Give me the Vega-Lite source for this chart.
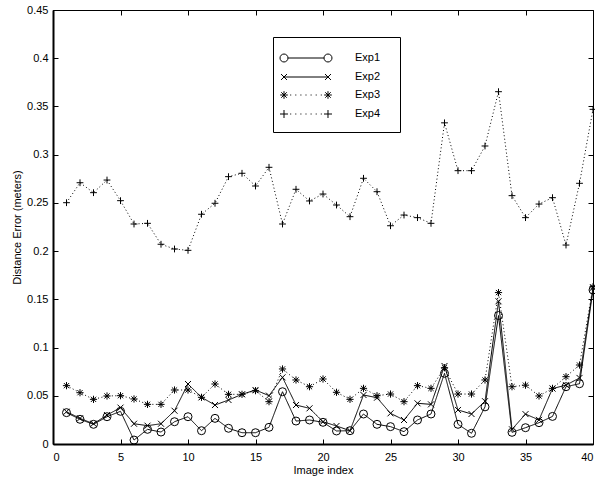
{
"$schema": "https://vega.github.io/schema/vega-lite/v6.json",
"width": 540, "height": 434,
"autosize": {"type": "none"},
"padding": {"left": 53, "top": 10, "right": 2, "bottom": 33},
"background": "white",
"config": {
  "view": {"stroke": "black", "strokeWidth": 1},
  "font": "Liberation Sans",
  "axis": {"domain": false, "grid": false, "tickColor": "black", "tickSize": -5, "tickWidth": 1,
           "labelFont": "Liberation Sans", "labelFontSize": 11, "labelColor": "black",
           "titleFont": "Liberation Sans", "titleFontSize": 11, "titleFontWeight": "normal", "titleColor": "black"}
},
"data": {"values": [
{"i":1,"s":"Exp1","v":0.0325},{"i":2,"s":"Exp1","v":0.0256},{"i":3,"s":"Exp1","v":0.0204},{"i":4,"s":"Exp1","v":0.0283},{"i":5,"s":"Exp1","v":0.0339},{"i":6,"s":"Exp1","v":0.0041},{"i":7,"s":"Exp1","v":0.0152},{"i":8,"s":"Exp1","v":0.0124},{"i":9,"s":"Exp1","v":0.0231},{"i":10,"s":"Exp1","v":0.0283},
{"i":11,"s":"Exp1","v":0.0138},{"i":12,"s":"Exp1","v":0.0266},{"i":13,"s":"Exp1","v":0.0163},{"i":14,"s":"Exp1","v":0.0117},{"i":15,"s":"Exp1","v":0.0117},{"i":16,"s":"Exp1","v":0.0173},{"i":17,"s":"Exp1","v":0.0542},{"i":18,"s":"Exp1","v":0.0238},{"i":19,"s":"Exp1","v":0.0249},{"i":20,"s":"Exp1","v":0.0225},
{"i":21,"s":"Exp1","v":0.0135},{"i":22,"s":"Exp1","v":0.0138},{"i":23,"s":"Exp1","v":0.0311},{"i":24,"s":"Exp1","v":0.0204},{"i":25,"s":"Exp1","v":0.018},{"i":26,"s":"Exp1","v":0.0128},{"i":27,"s":"Exp1","v":0.0249},{"i":28,"s":"Exp1","v":0.0311},{"i":29,"s":"Exp1","v":0.0733},{"i":30,"s":"Exp1","v":0.0204},
{"i":31,"s":"Exp1","v":0.0111},{"i":32,"s":"Exp1","v":0.0385},{"i":33,"s":"Exp1","v":0.1332},{"i":34,"s":"Exp1","v":0.0121},{"i":35,"s":"Exp1","v":0.0169},{"i":36,"s":"Exp1","v":0.0221},{"i":37,"s":"Exp1","v":0.0286},{"i":38,"s":"Exp1","v":0.0594},{"i":39,"s":"Exp1","v":0.0625},{"i":40,"s":"Exp1","v":0.1597},
{"i":1,"s":"Exp2","v":0.0335},{"i":2,"s":"Exp2","v":0.0266},{"i":3,"s":"Exp2","v":0.021},{"i":4,"s":"Exp2","v":0.030},{"i":5,"s":"Exp2","v":0.0377},{"i":6,"s":"Exp2","v":0.021},{"i":7,"s":"Exp2","v":0.019},{"i":8,"s":"Exp2","v":0.021},{"i":9,"s":"Exp2","v":0.0345},{"i":10,"s":"Exp2","v":0.0622},
{"i":11,"s":"Exp2","v":0.0484},{"i":12,"s":"Exp2","v":0.0404},{"i":13,"s":"Exp2","v":0.0456},{"i":14,"s":"Exp2","v":0.0515},{"i":15,"s":"Exp2","v":0.056},{"i":16,"s":"Exp2","v":0.0501},{"i":17,"s":"Exp2","v":0.0691},{"i":18,"s":"Exp2","v":0.0404},{"i":19,"s":"Exp2","v":0.037},{"i":20,"s":"Exp2","v":0.0231},
{"i":21,"s":"Exp2","v":0.0187},{"i":22,"s":"Exp2","v":0.0138},{"i":23,"s":"Exp2","v":0.0508},{"i":24,"s":"Exp2","v":0.048},{"i":25,"s":"Exp2","v":0.0318},{"i":26,"s":"Exp2","v":0.0249},{"i":27,"s":"Exp2","v":0.0422},{"i":28,"s":"Exp2","v":0.0411},{"i":29,"s":"Exp2","v":0.0809},{"i":30,"s":"Exp2","v":0.0353},
{"i":31,"s":"Exp2","v":0.0311},{"i":32,"s":"Exp2","v":0.0444},{"i":33,"s":"Exp2","v":0.148},{"i":34,"s":"Exp2","v":0.0152},{"i":35,"s":"Exp2","v":0.031},{"i":36,"s":"Exp2","v":0.025},{"i":37,"s":"Exp2","v":0.0575},{"i":38,"s":"Exp2","v":0.061},{"i":39,"s":"Exp2","v":0.0685},{"i":40,"s":"Exp2","v":0.162},
{"i":1,"s":"Exp3","v":0.0605},{"i":2,"s":"Exp3","v":0.0532},{"i":3,"s":"Exp3","v":0.0463},{"i":4,"s":"Exp3","v":0.0498},{"i":5,"s":"Exp3","v":0.0501},{"i":6,"s":"Exp3","v":0.0467},{"i":7,"s":"Exp3","v":0.0411},{"i":8,"s":"Exp3","v":0.0411},{"i":9,"s":"Exp3","v":0.056},{"i":10,"s":"Exp3","v":0.056},
{"i":11,"s":"Exp3","v":0.0484},{"i":12,"s":"Exp3","v":0.0622},{"i":13,"s":"Exp3","v":0.0515},{"i":14,"s":"Exp3","v":0.0515},{"i":15,"s":"Exp3","v":0.0553},{"i":16,"s":"Exp3","v":0.0439},{"i":17,"s":"Exp3","v":0.0778},{"i":18,"s":"Exp3","v":0.0664},{"i":19,"s":"Exp3","v":0.0594},{"i":20,"s":"Exp3","v":0.0674},
{"i":21,"s":"Exp3","v":0.0536},{"i":22,"s":"Exp3","v":0.0463},{"i":23,"s":"Exp3","v":0.0577},{"i":24,"s":"Exp3","v":0.0501},{"i":25,"s":"Exp3","v":0.0518},{"i":26,"s":"Exp3","v":0.0439},{"i":27,"s":"Exp3","v":0.0605},{"i":28,"s":"Exp3","v":0.0577},{"i":29,"s":"Exp3","v":0.0791},{"i":30,"s":"Exp3","v":0.0518},
{"i":31,"s":"Exp3","v":0.0518},{"i":32,"s":"Exp3","v":0.0664},{"i":33,"s":"Exp3","v":0.157},{"i":34,"s":"Exp3","v":0.0594},{"i":35,"s":"Exp3","v":0.061},{"i":36,"s":"Exp3","v":0.0498},{"i":37,"s":"Exp3","v":0.0577},{"i":38,"s":"Exp3","v":0.0698},{"i":39,"s":"Exp3","v":0.0819},{"i":40,"s":"Exp3","v":0.163},
{"i":1,"s":"Exp4","v":0.2502},{"i":2,"s":"Exp4","v":0.2709},{"i":3,"s":"Exp4","v":0.2606},{"i":4,"s":"Exp4","v":0.2737},{"i":5,"s":"Exp4","v":0.2523},{"i":6,"s":"Exp4","v":0.2281},{"i":7,"s":"Exp4","v":0.2288},{"i":8,"s":"Exp4","v":0.2071},{"i":9,"s":"Exp4","v":0.2022},{"i":10,"s":"Exp4","v":0.2008},
{"i":11,"s":"Exp4","v":0.2382},{"i":12,"s":"Exp4","v":0.2496},{"i":13,"s":"Exp4","v":0.2772},{"i":14,"s":"Exp4","v":0.2807},{"i":15,"s":"Exp4","v":0.2675},{"i":16,"s":"Exp4","v":0.2869},{"i":17,"s":"Exp4","v":0.2281},{"i":18,"s":"Exp4","v":0.2641},{"i":19,"s":"Exp4","v":0.252},{"i":20,"s":"Exp4","v":0.2592},
{"i":21,"s":"Exp4","v":0.2478},{"i":22,"s":"Exp4","v":0.2357},{"i":23,"s":"Exp4","v":0.2755},{"i":24,"s":"Exp4","v":0.2616},{"i":25,"s":"Exp4","v":0.2263},{"i":26,"s":"Exp4","v":0.2374},{"i":27,"s":"Exp4","v":0.2347},{"i":28,"s":"Exp4","v":0.2288},{"i":29,"s":"Exp4","v":0.333},{"i":30,"s":"Exp4","v":0.2834},
{"i":31,"s":"Exp4","v":0.2834},{"i":32,"s":"Exp4","v":0.309},{"i":33,"s":"Exp4","v":0.3653},{"i":34,"s":"Exp4","v":0.2575},{"i":35,"s":"Exp4","v":0.2347},{"i":36,"s":"Exp4","v":0.2488},{"i":37,"s":"Exp4","v":0.2554},{"i":38,"s":"Exp4","v":0.2063},{"i":39,"s":"Exp4","v":0.2703},{"i":40,"s":"Exp4","v":0.347}
]},
"layer": [
  {
    "mark": {"type": "line", "color": "black", "strokeWidth": 1, "clip": true},
    "encoding": {
      "x": {"field": "i", "type": "quantitative", "scale": {"domain": [0, 40], "nice": false},
            "axis": {"orient": "bottom", "values": [0,5,10,15,20,25,30,35,40], "title": "Image index", "labelPadding": 12, "titlePadding": 2,
                     "domain": true, "domainColor": "black", "domainWidth": 2}},
      "y": {"field": "v", "type": "quantitative", "scale": {"domain": [0, 0.45], "nice": false},
            "axis": {"orient": "left", "values": [0,0.05,0.1,0.15,0.2,0.25,0.3,0.35,0.4,0.45], "format": "~g", "title": "Distance Error (meters)", "labelPadding": 10, "titlePadding": 4,
                     "domain": true, "domainColor": "black", "domainWidth": 2}},
      "detail": {"field": "s"},
      "strokeDash": {"field": "s", "type": "nominal", "scale": {"domain": ["Exp1","Exp2","Exp3","Exp4"], "range": [[1,0],[1,0],[1,2.5],[1,2.5]]}, "legend": null}
    }
  },
  {
    "mark": {"type": "point", "filled": false, "stroke": "black", "strokeWidth": 1, "size": 64, "opacity": 1},
    "encoding": {
      "x": {"field": "i", "type": "quantitative", "axis": null},
      "y": {"field": "v", "type": "quantitative", "axis": null},
      "shape": {"field": "s", "type": "nominal",
        "scale": {"domain": ["Exp1","Exp2","Exp3","Exp4"],
                  "range": ["circle",
                            "M-0.75,-0.75L0.75,0.75M-0.75,0.75L0.75,-0.75",
                            "M-0.9,0L0.9,0M0,-0.9L0,0.9M-0.65,-0.65L0.65,0.65M-0.65,0.65L0.65,-0.65",
                            "M-0.85,0L0.85,0M0,-0.85L0,0.85"]},
        "legend": null}
    }
  },
  {
    "transform": [{"filter": "datum.i < 0"}],
    "mark": {"type": "point", "filled": false, "stroke": "black", "strokeWidth": 1, "size": 289},
    "encoding": {
      "x": {"field": "i", "type": "quantitative",
            "axis": {"orient": "top", "values": [0,5,10,15,20,25,30,35,40], "labels": false, "title": null}},
      "y": {"field": "v", "type": "quantitative",
            "axis": {"orient": "right", "values": [0,0.05,0.1,0.15,0.2,0.25,0.3,0.35,0.4,0.45], "labels": false, "title": null}},
      "shape": {"field": "s", "type": "nominal",
        "scale": {"domain": ["Exp1","Exp2","Exp3","Exp4"],
                  "range": [
"M-3.058,0A0.47,0.47,0,1,0,-2.118,0A0.47,0.47,0,1,0,-3.058,0M-2.118,0L2.118,0M2.118,0A0.47,0.47,0,1,0,3.058,0A0.47,0.47,0,1,0,2.118,0M9.3,0",
"M-2.588,0L2.588,0M-2.938,-0.35L-2.238,0.35M-2.938,0.35L-2.238,-0.35M2.238,-0.35L2.938,0.35M2.238,0.35L2.938,-0.35M9.3,0",
"M-3.038,0L-2.138,0M-2.588,-0.45L-2.588,0.45M-2.908,-0.32L-2.268,0.32M-2.908,0.32L-2.268,-0.32M2.138,0L3.038,0M2.588,-0.45L2.588,0.45M2.268,-0.32L2.908,0.32M2.268,0.32L2.908,-0.32M-1.86,0h0.12M-1.26,0h0.12M-0.66,0h0.12M-0.06,0h0.12M0.54,0h0.12M1.14,0h0.12M1.74,0h0.12M9.3,0",
"M-3.058,0L-2.118,0M-2.588,-0.47L-2.588,0.47M2.118,0L3.058,0M2.588,-0.47L2.588,0.47M-1.86,0h0.12M-1.26,0h0.12M-0.66,0h0.12M-0.06,0h0.12M0.54,0h0.12M1.14,0h0.12M1.74,0h0.12M9.3,0"
                  ]},
        "legend": {"title": null, "orient": "none", "legendX": 220, "legendY": 27, "padding": 12,
                   "strokeColor": "black", "fillColor": "white", "rowPadding": 4,
                   "symbolSize": 289, "symbolStrokeWidth": 1, "symbolStrokeColor": "black", "symbolOpacity": 1,
                   "symbolOffset": 12, "labelOffset": 40,
                   "labelFont": "Liberation Sans", "labelFontSize": 11, "labelColor": "black"}}
    }
  }
],
"resolve": {"scale": {"shape": "independent"}, "axis": {"x": "independent", "y": "independent"}}
}
